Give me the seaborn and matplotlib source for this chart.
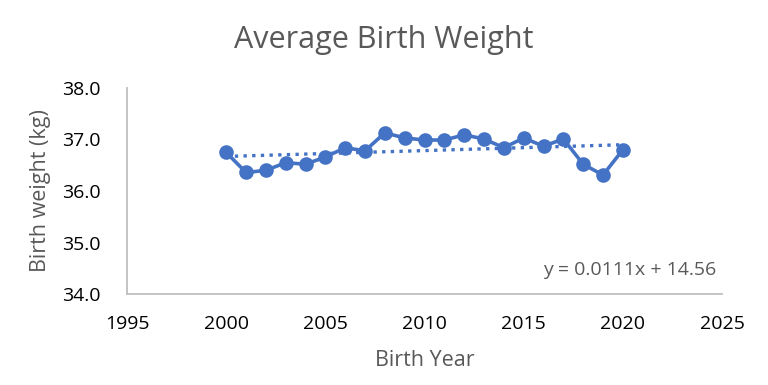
import numpy as np
import pandas as pd
import matplotlib
matplotlib.use("Agg")
import matplotlib.pyplot as plt
import seaborn as sns

years = [2000, 2001, 2002, 2003, 2004, 2005, 2006, 2007, 2008, 2009, 2010,
         2011, 2012, 2013, 2014, 2015, 2016, 2017, 2018, 2019, 2020]
weights = [36.75, 36.36, 36.40, 36.55, 36.52, 36.66, 36.84, 36.78, 37.13, 37.03, 36.99,
           36.99, 37.09, 37.01, 36.84, 37.03, 36.87, 37.01, 36.52, 36.31, 36.80]
x_ticks = [1995, 2000, 2005, 2010, 2015, 2020, 2025]
y_ticks = [34.0, 35.0, 36.0, 37.0, 38.0]
title = "Average Birth Weight"
x_label = "Birth Year"
y_label = "Birth weight (kg)"
equation = "y = 0.0111x + 14.56"

df = pd.DataFrame({"year": years, "weight": weights})

sns.set_style("white")
plt.rcParams["font.family"] = ["Open Sans", "DejaVu Sans"]

blue = "#4472C4"
gray_text = "#595959"
spine_gray = "#BFBFBF"

fig = plt.figure(figsize=(7.68, 3.85), dpi=100)
ax = fig.add_axes([127 / 768, 1 - 294 / 385, (722 - 127) / 768, (294 - 88) / 385])

sns.regplot(data=df, x="year", y="weight", ax=ax, scatter=False, ci=None,
            color=blue, line_kws=dict(linestyle=(0, (1, 1.6)), linewidth=2.4))
sns.lineplot(data=df, x="year", y="weight", ax=ax, color=blue, linewidth=2.6,
             marker="o", markersize=10.5, markeredgewidth=0, markeredgecolor=blue)

ax.set_xlim(1995, 2025)
ax.set_ylim(34, 38)
ax.set_xticks(x_ticks)
ax.set_xticklabels([str(t) for t in x_ticks])
ax.set_yticks(y_ticks)
ax.set_yticklabels([f"{t:.1f}" for t in y_ticks])
ax.tick_params(axis="both", length=0, labelsize=14, colors="#000000")
ax.tick_params(axis="y", pad=19)
ax.tick_params(axis="x", pad=15)

for side in ["top", "right"]:
    ax.spines[side].set_visible(False)
for side in ["left", "bottom"]:
    ax.spines[side].set_color(spine_gray)
    ax.spines[side].set_linewidth(1.3)

ax.set_xlabel(x_label, fontsize=15.5, color=gray_text, labelpad=12)
ax.set_ylabel(y_label, fontsize=15.5, color=gray_text, labelpad=8)
ax.text(0.99, 0.09, equation, transform=ax.transAxes, ha="right", va="baseline",
        fontsize=14, color=gray_text)

fig.text(0.5, 1 - 48 / 385, title, ha="center", va="baseline", fontsize=22, color=gray_text)

fig.savefig("out.png", dpi=100)
